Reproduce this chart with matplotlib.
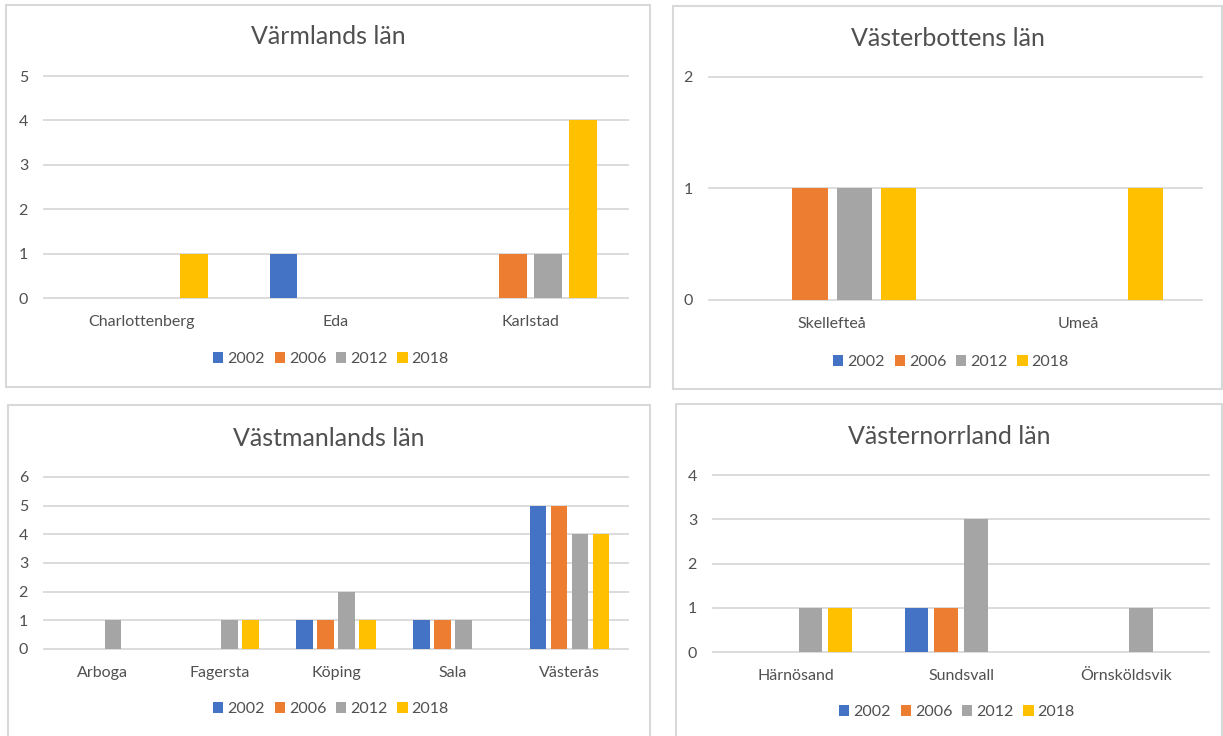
import matplotlib
matplotlib.use("Agg")
import matplotlib.pyplot as plt
from matplotlib.patches import Rectangle, Patch

W, H = 1223, 736
plt.rcParams['font.family'] = ['Lato', 'DejaVu Sans']

years = ["2002", "2006", "2012", "2018"]
colors = ["#4472C4", "#ED7D31", "#A5A5A5", "#FFC000"]

# Värmlands län
varm_titles = "Värmlands län"
varm_cats = ["Charlottenberg", "Eda", "Karlstad"]
varm_2002 = [0, 1, 0]
varm_2006 = [0, 0, 1]
varm_2012 = [0, 0, 1]
varm_2018 = [1, 0, 4]
varm_yticks = [0, 1, 2, 3, 4, 5]

# Västerbottens län
vbot_title = "Västerbottens län"
vbot_cats = ["Skellefteå", "Umeå"]
vbot_2002 = [0, 0]
vbot_2006 = [1, 0]
vbot_2012 = [1, 0]
vbot_2018 = [1, 1]
vbot_yticks = [0, 1, 2]

# Västmanlands län
vman_title = "Västmanlands län"
vman_cats = ["Arboga", "Fagersta", "Köping", "Sala", "Västerås"]
vman_2002 = [0, 0, 1, 1, 5]
vman_2006 = [0, 0, 1, 1, 5]
vman_2012 = [1, 1, 2, 1, 4]
vman_2018 = [0, 1, 1, 0, 4]
vman_yticks = [0, 1, 2, 3, 4, 5, 6]

# Västernorrland län
vnor_title = "Västernorrland län"
vnor_cats = ["Härnösand", "Sundsvall", "Örnsköldsvik"]
vnor_2002 = [0, 1, 0]
vnor_2006 = [0, 1, 0]
vnor_2012 = [1, 3, 1]
vnor_2018 = [1, 0, 0]
vnor_yticks = [0, 1, 2, 3, 4]

TXT = "#505050"
GRID = "#D9D9D9"

fig = plt.figure(figsize=(W / 100, H / 100), dpi=100)
fig.patch.set_facecolor("white")


def fx(x):
    return x / W


def fy(y):
    return 1 - y / H


def panel(box, ax_px, title, title_y, cats, series, yticks, legend_xy):
    bx0, by0, bx1, by1 = box
    fig.patches.append(Rectangle((fx(bx0), fy(by1)), (bx1 - bx0) / W, (by1 - by0) / H,
                                 transform=fig.transFigure, facecolor="none",
                                 edgecolor=GRID, linewidth=1.5, zorder=-5))
    fig.text(fx((bx0 + bx1) / 2), fy(title_y), title, ha="center", va="center",
             fontsize=18, color=TXT)
    left, right, top, bottom = ax_px
    ax = fig.add_axes([fx(left), fy(bottom), (right - left) / W, (bottom - top) / H])
    ax.set_facecolor("none")
    ax.set_zorder(2)
    n = len(cats)
    step, width = 0.18, 0.143
    for i, (vals, c) in enumerate(zip(series, colors)):
        xs = [k + (i - 1.5) * step for k in range(n)]
        ax.bar(xs, vals, width=width, color=c, zorder=2)
    for t in yticks:
        ax.axhline(t, color=GRID, linewidth=1.3, zorder=1, clip_on=False)
    ax.set_xlim(-0.5, n - 0.5)
    ax.set_ylim(yticks[0], yticks[-1])
    ax.set_yticks(yticks)
    ax.set_xticks(range(n))
    ax.set_xticklabels(cats)
    ax.tick_params(axis="both", length=0, colors=TXT, labelsize=11.5)
    ax.tick_params(axis="x", pad=12.5)
    ax.tick_params(axis="y", pad=11.5)
    for s in ax.spines.values():
        s.set_visible(False)
    handles = [Patch(facecolor=c, edgecolor="none", label=y) for y, c in zip(years, colors)]
    fig.legend(handles=handles, loc="center", bbox_to_anchor=(fx(legend_xy[0]), fy(legend_xy[1])),
               ncol=4, frameon=False, fontsize=11.5, labelcolor=TXT,
               handlelength=0.65, handleheight=0.65, handletextpad=0.25,
               columnspacing=0.6, borderaxespad=0, borderpad=0)
    return ax


panel((6, 5, 650, 387), (44, 628, 76, 298), varm_titles, 37, varm_cats,
      [varm_2002, varm_2006, varm_2012, varm_2018], varm_yticks, (331, 359))
panel((673, 6, 1222, 389), (709, 1202, 77, 300), vbot_title, 38, vbot_cats,
      [vbot_2002, vbot_2006, vbot_2012, vbot_2018], vbot_yticks, (951, 362))
panel((8, 405, 650, 745), (44, 628, 477, 649), vman_title, 438, vman_cats,
      [vman_2002, vman_2006, vman_2012, vman_2018], vman_yticks, (331, 709))
panel((676, 404, 1222, 745), (713, 1209, 475, 652), vnor_title, 436, vnor_cats,
      [vnor_2002, vnor_2006, vnor_2012, vnor_2018], vnor_yticks, (957, 712))

fig.savefig("out.png", dpi=100, facecolor="white")
